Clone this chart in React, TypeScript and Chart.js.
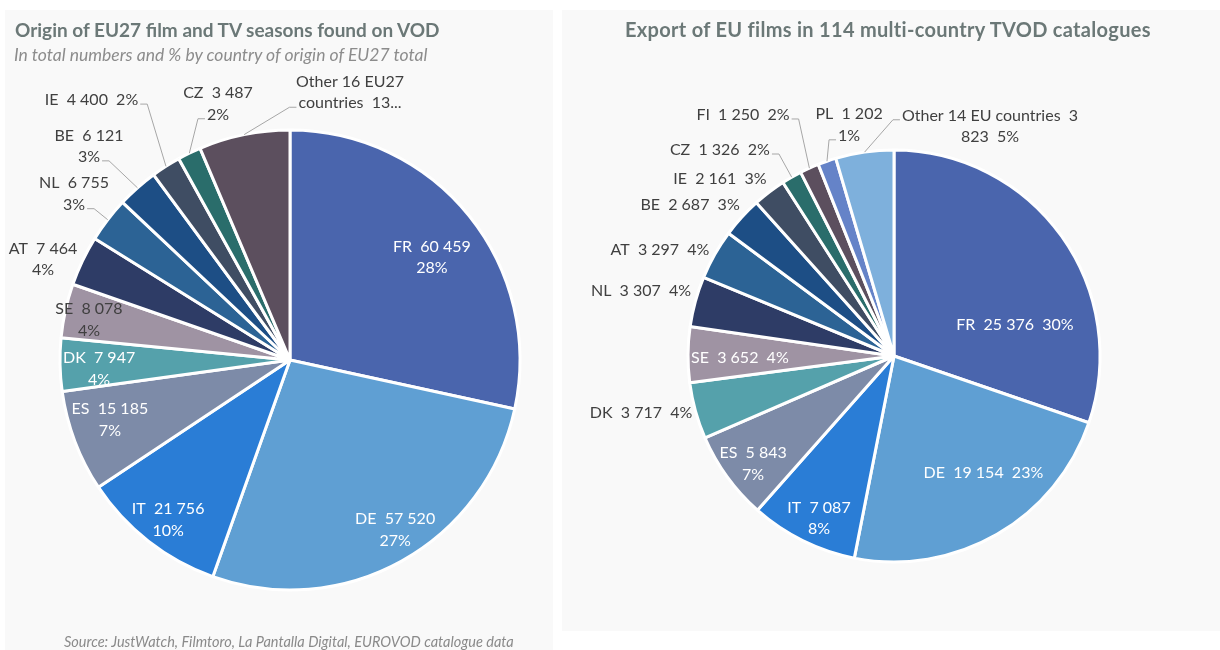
import React, { useEffect, useRef } from 'react';
import { Chart, registerables } from 'chart.js';

Chart.register(...registerables);

// ---------------- data ----------------
const originCountries = ['FR', 'DE', 'IT', 'ES', 'DK', 'SE', 'AT', 'NL', 'BE', 'IE', 'CZ', 'Other 16 EU27 countries'];
const originCounts = [60459, 57520, 21756, 15185, 7947, 8078, 7464, 6755, 6121, 4400, 3487, 13600];
// shares (%) as printed on the labels
const originShares = [28, 27, 10, 7, 4, 4, 4, 3, 3, 2, 2, 6];

const exportCountries = ['FR', 'DE', 'IT', 'ES', 'DK', 'SE', 'NL', 'AT', 'BE', 'IE', 'CZ', 'FI', 'PL', 'Other 14 EU countries'];
const exportCounts = [25376, 19154, 7087, 5843, 3717, 3652, 3307, 3297, 2687, 2161, 1326, 1250, 1202, 3823];
const exportShares = [30, 23, 8, 7, 4, 4, 4, 4, 3, 3, 2, 2, 1, 5];

const originTitle = 'Origin of EU27 film and TV seasons found on VOD';
const originSubtitle = 'In total numbers and % by country of origin of EU27 total';
const exportTitle = 'Export of EU films in 114 multi-country TVOD catalogues';
const sourceNote = 'Source: JustWatch, Filmtoro, La Pantalla Digital, EUROVOD catalogue data';

// ---------------- style ----------------
const originColors = ['#4a65ad', '#5f9fd3', '#2a7dd6', '#7d8ba8', '#55a1ab', '#9f93a3', '#2e3c66', '#2c6395', '#1d4e85', '#3f4d63', '#2a6d6b', '#5c4f5e'];
const exportColors = ['#4a65ad', '#5f9fd3', '#2a7dd6', '#7d8ba8', '#55a1ab', '#9f93a3', '#2e3c66', '#2c6395', '#1d4e85', '#3f4d63', '#2a6d6b', '#5c4f5e', '#6583c8', '#7eb0dc'];

// label placement: [x, y] in radius units from the pie centre, leader line flag, wrap width (px)
type LabelSpec = [number, number, number, number];
const originLabelLayout: LabelSpec[] = [
  [0.617, -0.446, 0, 84],
  [0.457, 0.739, 0, 84],
  [-0.530, 0.696, 0, 84],
  [-0.783, 0.261, 0, 84],
  [-0.830, 0.039, 0, 84],
  [-0.874, -0.174, 0, 84],
  [-1.074, -0.437, 0, 84],
  [-0.939, -0.722, 1, 84],
  [-0.874, -0.930, 1, 84],
  [-0.863, -1.130, 1, 120],
  [-0.313, -1.113, 1, 84],
  [0.261, -1.163, 1, 112],
];
const exportLabelLayout: LabelSpec[] = [
  [0.587, -0.150, 0, 130],
  [0.434, 0.568, 0, 130],
  [-0.364, 0.789, 0, 70],
  [-0.684, 0.524, 0, 75],
  [-1.228, 0.277, 0, 130],
  [-0.748, 0.010, 0, 130],
  [-1.228, -0.316, 0, 130],
  [-1.136, -0.515, 0, 130],
  [-0.990, -0.733, 0, 130],
  [-0.845, -0.859, 0, 130],
  [-0.845, -1.000, 1, 130],
  [-0.733, -1.170, 1, 130],
  [-0.218, -1.121, 1, 72],
  [0.466, -1.114, 1, 180],
];

const LABEL_FONT = '16px Lato, "Open Sans", sans-serif';
const LINE_H = 21.5;

function formatNumber(v: number): string {
  return String(v).replace(/\B(?=(\d{3})+(?!\d))/g, ' ');
}

function wrapText(ctx: CanvasRenderingContext2D, text: string, maxWidth: number, maxLines: number): string[] {
  const tokens = text.split(' ');
  const lines: string[][] = [];
  let cur: string[] = [];
  for (const t of tokens) {
    const trial = [...cur, t];
    if (cur.length > 0 && t !== '' && ctx.measureText(trial.join(' ').trim()).width > maxWidth) {
      lines.push(cur);
      cur = [t];
    } else {
      cur = trial;
    }
  }
  if (cur.join(' ').trim()) lines.push(cur);
  let out = lines.map((l) => l.join(' ').trim());
  if (lines.length > maxLines) {
    let rest: string[] = ([] as string[]).concat(...lines.slice(maxLines - 1));
    while (rest.length > 1 && ctx.measureText(rest.join(' ').trim() + '...').width > maxWidth) {
      rest = rest.slice(0, -1);
    }
    out = out.slice(0, maxLines - 1);
    out.push(rest.join(' ').trim() + '...');
  }
  return out;
}

function makeLabelPlugin(categories: string[], values: number[], shares: number[], layout: LabelSpec[]) {
  return {
    id: 'sliceLabels',
    afterDatasetsDraw(chart: any) {
      const ctx: CanvasRenderingContext2D = chart.ctx;
      const meta = chart.getDatasetMeta(0);
      ctx.save();
      ctx.font = LABEL_FONT;
      ctx.textAlign = 'center';
      ctx.textBaseline = 'middle';
      meta.data.forEach((arc: any, i: number) => {
        const p = arc.getProps(['x', 'y', 'startAngle', 'endAngle', 'outerRadius'], true);
        const R = p.outerRadius;
        const [ux, uy, leader, wrapW] = layout[i];
        const lx = p.x + ux * R;
        const ly = p.y + uy * R;
        const text = `${categories[i]}  ${formatNumber(values[i])}  ${shares[i]}%`;
        const lines = wrapText(ctx, text, wrapW, 2);
        const boxes = lines.map((s, k) => {
          const w = ctx.measureText(s).width;
          const yy = ly - ((lines.length - 1) * LINE_H) / 2 + k * LINE_H;
          return { s, w, y: yy, l: lx - w / 2, r: lx + w / 2 };
        });
        const inside = boxes.every((b) =>
          [
            [b.l, b.y - 6],
            [b.r, b.y - 6],
            [b.l, b.y + 6],
            [b.r, b.y + 6],
          ].every(([a, c]) => Math.hypot(a - p.x, c - p.y) <= R - 1)
        );
        if (leader) {
          const mid = (p.startAngle + p.endAngle) / 2;
          const px = p.x + Math.cos(mid) * R;
          const py = p.y + Math.sin(mid) * R;
          let best: any = null;
          boxes.forEach((b) => {
            let ax: number, ay: number, tx: number;
            if (px < b.l) {
              ax = b.l - 2; ay = b.y + 4; tx = ax - 7;
            } else if (px > b.r) {
              ax = b.r + 2; ay = b.y + 4; tx = ax + 7;
            } else {
              ax = px; ay = b.y + 9; tx = ax;
            }
            const d = Math.hypot(tx - px, ay - py);
            if (!best || d < best.d) best = { ax, ay, tx, d };
          });
          ctx.strokeStyle = '#a6a6a6';
          ctx.lineWidth = 1;
          ctx.beginPath();
          ctx.moveTo(best.ax, best.ay);
          ctx.lineTo(best.tx, best.ay);
          ctx.lineTo(px, py);
          ctx.stroke();
        }
        ctx.fillStyle = inside ? '#ffffff' : '#404040';
        boxes.forEach((b) => ctx.fillText(b.s, lx, b.y));
      });
      ctx.restore();
    },
  };
}

type PieProps = {
  categories: string[];
  values: number[];
  shares: number[];
  colors: string[];
  layout: LabelSpec[];
  width: number;
  height: number;
  radius: number;
  padding: { left: number; right: number; top: number; bottom: number };
};

function PieCanvas({ categories, values, shares, colors, layout, width, height, radius, padding }: PieProps) {
  const ref = useRef<HTMLCanvasElement | null>(null);
  useEffect(() => {
    if (!ref.current) return;
    const chart = new Chart(ref.current, {
      type: 'pie',
      data: {
        labels: categories,
        datasets: [
          {
            data: values,
            backgroundColor: colors,
            borderColor: '#ffffff',
            borderWidth: 3,
            radius: radius,
          } as any,
        ],
      },
      options: {
        responsive: false,
        maintainAspectRatio: false,
        animation: false,
        devicePixelRatio: 1,
        events: [],
        radius: radius,
        layout: { padding },
        plugins: {
          legend: { display: false },
          tooltip: { enabled: false },
          title: { display: false },
        },
      } as any,
      plugins: [makeLabelPlugin(categories, values, shares, layout)],
    });
    if ((document as any).fonts && (document as any).fonts.ready) {
      (document as any).fonts.ready.then(() => chart.draw());
    }
    return () => chart.destroy();
  }, []);
  return (
    <canvas
      ref={ref}
      width={width}
      height={height}
      style={{ position: 'absolute', left: 0, top: 0, width, height }}
    />
  );
}

export default function App() {
  const titleStyle: React.CSSProperties = {
    position: 'absolute',
    fontFamily: 'Lato, "Open Sans", sans-serif',
    fontWeight: 700,
    fontSize: 19,
    lineHeight: '24px',
    color: '#6b7877',
    whiteSpace: 'nowrap',
  };
  return (
    <div
      style={{
        position: 'fixed',
        left: 0,
        top: 0,
        width: 1220,
        height: 650,
        background: '#ffffff',
        overflow: 'hidden',
        fontFamily: 'Lato, sans-serif',
      }}
    >
      <div style={{ position: 'absolute', left: 5, top: 10, width: 548, height: 640, background: '#f9f9f9' }}>
        <PieCanvas
          categories={originCountries}
          values={originCounts}
          shares={originShares}
          colors={originColors}
          layout={originLabelLayout}
          width={548}
          height={640}
          radius={230}
          padding={{ left: 22, right: 0, top: 60, bottom: 0 }}
        />
        <div style={{ ...titleStyle, left: 10, top: 8 }}>{originTitle}</div>
        <div
          style={{
            position: 'absolute',
            left: 9,
            top: 34,
            fontFamily: 'Lato, "Open Sans", sans-serif',
            fontStyle: 'italic',
            fontSize: 17.5,
            lineHeight: '21px',
            color: '#8c8c8c',
            whiteSpace: 'nowrap',
          }}
        >
          {originSubtitle}
        </div>
        <div
          style={{
            position: 'absolute',
            left: 59,
            top: 623,
            fontFamily: 'Lato, "Open Sans", sans-serif',
            fontStyle: 'italic',
            fontSize: 14.5,
            lineHeight: '17px',
            color: '#8a8a8a',
            whiteSpace: 'nowrap',
          }}
        >
          {sourceNote}
        </div>
      </div>
      <div style={{ position: 'absolute', left: 562, top: 10, width: 658, height: 621, background: '#f9f9f9' }}>
        <PieCanvas
          categories={exportCountries}
          values={exportCounts}
          shares={exportShares}
          colors={exportColors}
          layout={exportLabelLayout}
          width={658}
          height={621}
          radius={206}
          padding={{ left: 6, right: 0, top: 71, bottom: 0 }}
        />
        <div style={{ ...titleStyle, left: 63, top: 7, fontSize: 20, letterSpacing: 0.3 }}>{exportTitle}</div>
      </div>
    </div>
  );
}
